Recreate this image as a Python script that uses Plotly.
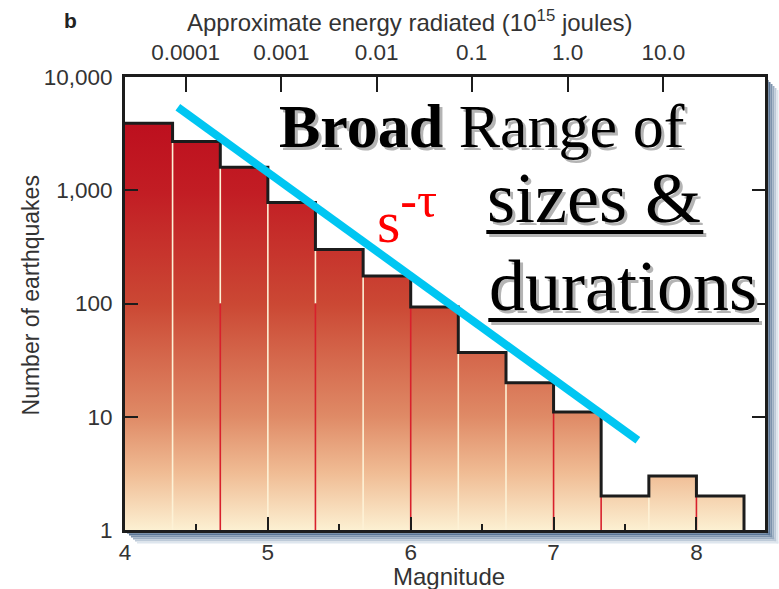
import plotly.graph_objects as go

# Earthquake counts per magnitude bin (bins one third of a magnitude unit wide)
bin_edges = [4.0, 4.333, 4.667, 5.0, 5.333, 5.667, 6.0, 6.333, 6.667, 7.0, 7.333, 7.667, 8.0, 8.333]
counts = [3900, 2700, 1600, 780, 300, 175, 93, 37, 20, 11, 2, 3, 2]

# Thin separator colour at each inner bin edge (lower part of the line)
separator_colors = ["cream", "red", "cream", "red", "cream", "red",
                    "cream", "cream", "red", "red", "cream", "red"]

# Power-law guide line s^-tau
fit_mag = [4.37, 7.59]
fit_count = [5400, 6.2]

# Upper axis: approximate radiated energy (10^15 joules)
energy_mag = [4.425, 5.095, 5.762, 6.427, 7.098, 7.768]
energy_labels = ["0.0001", "0.001", "0.01", "0.1", "1.0", "10.0"]

# Lower / left axes
mag_ticks = [4, 5, 6, 7, 8]
mag_minor = [4.5, 5.5, 6.5, 7.5]
count_ticks = [1, 10, 100, 1000, 10000]
count_labels = ["1", "10", "100", "1,000", "10,000"]

# Canvas and plot-area geometry (pixels)
W, H = 779, 589
L, R, T, B = 125, 11, 77, 59
PW, PH = W - L - R, H - T - B


def fx(px):
    return (px - L) / PW


def fy(py):
    return (H - B - py) / PH


SANS = "Liberation Sans, Arial, Helvetica, sans-serif"
SERIF = "Liberation Serif, Times New Roman, serif"
INK = "#333333"
FRAME = "#1c1c1c"

fig = go.Figure()

# Outline polygon of the histogram (step shape closed along the baseline)
poly_x, poly_y = [bin_edges[0]], [1]
for i, c in enumerate(counts):
    poly_x += [bin_edges[i], bin_edges[i + 1]]
    poly_y += [c, c]
poly_x += [bin_edges[-1]]
poly_y += [1]

# Gradient body: cream at the baseline through to crimson at the top
fig.add_trace(go.Scatter(
    x=poly_x, y=poly_y, mode="lines", fill="toself",
    line=dict(width=0, color="rgba(0,0,0,0)"),
    fillgradient=dict(
        type="vertical",
        colorscale=[
            [0.0, "#fcf0d2"],
            [0.14, "#f0bc94"],
            [0.28, "#df8a66"],
            [0.555, "#cb4834"],
            [0.83, "#c21d24"],
            [1.0, "#bd0f1e"],
        ],
    ),
    hoverinfo="skip",
))

# Separator lines between adjacent bars
cream_x, cream_y, red_x, red_y = [], [], [], []
for i in range(1, len(bin_edges) - 1):
    top = min(counts[i - 1], counts[i])
    e = bin_edges[i]
    if separator_colors[i - 1] == "red":
        split = min(top, 100)
        red_x += [e, e, None]
        red_y += [1, split, None]
        if top > split:
            cream_x += [e, e, None]
            cream_y += [split, top, None]
    else:
        cream_x += [e, e, None]
        cream_y += [1, top, None]

fig.add_trace(go.Scatter(x=cream_x, y=cream_y, mode="lines",
                         line=dict(color="#fdf2d6", width=1.6), hoverinfo="skip"))
fig.add_trace(go.Scatter(x=red_x, y=red_y, mode="lines",
                         line=dict(color="#d8202c", width=1.6), hoverinfo="skip"))

# Black step outline
fig.add_trace(go.Scatter(x=poly_x[1:], y=poly_y[1:], mode="lines",
                         line=dict(color=FRAME, width=3), hoverinfo="skip"))

# Cyan power-law line (drawn against the energy axis, which shares the range)
fig.add_trace(go.Scatter(x=fit_mag, y=fit_count, mode="lines", xaxis="x2",
                         line=dict(color="#00c6f2", width=8), hoverinfo="skip"))

# Blue-grey drop shadow along the right and bottom of the frame
shapes = []
steps = 6
c0 = (58, 90, 128)
c1 = (222, 230, 238)
for k in range(steps):
    t = k / (steps - 1)
    col = "rgb(%d,%d,%d)" % tuple(round(a + (b - a) * t) for a, b in zip(c0, c1))
    # right side
    shapes.append(dict(type="rect", xref="paper", yref="paper", layer="below",
                       x0=fx(769.5 + 2 * k), x1=fx(771.5 + 2 * k),
                       y0=fy(533.5 + 2 * k), y1=fy(80 + 2 * k),
                       line=dict(width=0), fillcolor=col))
    # bottom side
    shapes.append(dict(type="rect", xref="paper", yref="paper", layer="below",
                       x0=fx(127 + 2 * k), x1=fx(771.5 + 2 * k),
                       y0=fy(533.5 + 2 * k), y1=fy(531.5 + 2 * k),
                       line=dict(width=0), fillcolor=col))

# Underlines beneath "sizes &" and "durations", each with a grey shadow
for x0, x1, yy in [(488, 706, 232), (490, 762, 320)]:
    shapes.append(dict(type="line", xref="paper", yref="paper",
                       x0=fx(x0 + 3), x1=fx(x1 + 3), y0=fy(yy + 3), y1=fy(yy + 3),
                       line=dict(color="#b4b4b4", width=4)))
    shapes.append(dict(type="line", xref="paper", yref="paper",
                       x0=fx(x0), x1=fx(x1), y0=fy(yy), y1=fy(yy),
                       line=dict(color="black", width=4)))

annotations = [
    dict(text="<b>b</b>", x=fx(70), y=fy(20), font=dict(family=SANS, size=21, color="#222")),
    dict(text="Approximate energy radiated (10<sup>15</sup> joules)", x=fx(411), y=fy(21),
         font=dict(family=SANS, size=24, color=INK)),
    dict(text="Magnitude", x=fx(451), y=fy(576), font=dict(family=SANS, size=24, color=INK)),
    dict(text="Number of earthquakes", x=fx(31), y=fy(295), textangle=-90,
         font=dict(family=SANS, size=23, color=INK)),
]
for a in annotations:
    a.update(xref="paper", yref="paper", showarrow=False, xanchor="center", yanchor="middle")

# Large serif captions with soft grey drop shadows
captions = [
    ("<b>Broad</b> Range of", 278, 126, 62),
    ("sizes &amp;", 487, 198, 72),
    ("durations", 489, 286, 72),
]
for text, px, py, size in captions:
    for color, dx, dy in [("#b4b4b4", 3, -3), ("black", 0, 0)]:
        annotations.append(dict(text=text, xref="paper", yref="paper", x=fx(px), y=fy(py),
                                xanchor="left", yanchor="middle", showarrow=False,
                                xshift=dx, yshift=dy,
                                font=dict(family=SERIF, size=size, color=color)))

annotations.append(dict(text='s<sup><span style="font-size:50px">-τ</span></sup>',
                        xref="paper", yref="paper", x=fx(376), y=fy(213),
                        xanchor="left", yanchor="middle", showarrow=False,
                        font=dict(family=SERIF, size=60, color="#ff0000")))

axis_common = dict(showgrid=False, zeroline=False, tickcolor=FRAME, tickwidth=2,
                   tickfont=dict(family=SANS, size=22.5, color=INK))

fig.update_layout(
    width=W, height=H,
    margin=dict(l=L, r=R, t=T, b=B, pad=0),
    paper_bgcolor="white", plot_bgcolor="white",
    showlegend=False,
    xaxis=dict(range=[4, 8.48], tickmode="array", tickvals=mag_ticks,
               ticks="inside", ticklen=13,
               minor=dict(tickvals=mag_minor, ticks="inside", ticklen=6,
                          tickwidth=2, tickcolor=FRAME),
               showline=True, linewidth=3, linecolor=FRAME, mirror=True,
               **axis_common),
    xaxis2=dict(range=[4, 8.48], overlaying="x", side="top", tickmode="array",
                tickvals=energy_mag, ticktext=energy_labels,
                ticks="inside", ticklen=15, showline=False, ticklabelstandoff=12,
                **axis_common),
    yaxis=dict(type="log", range=[0, 4], tickmode="array", tickvals=count_ticks,
               ticktext=count_labels, ticks="inside", ticklen=13,
               showline=True, linewidth=3, linecolor=FRAME, mirror="ticks",
               ticklabelstandoff=5,
               **axis_common),
    shapes=shapes,
    annotations=annotations,
)

fig.write_html("out.html")
